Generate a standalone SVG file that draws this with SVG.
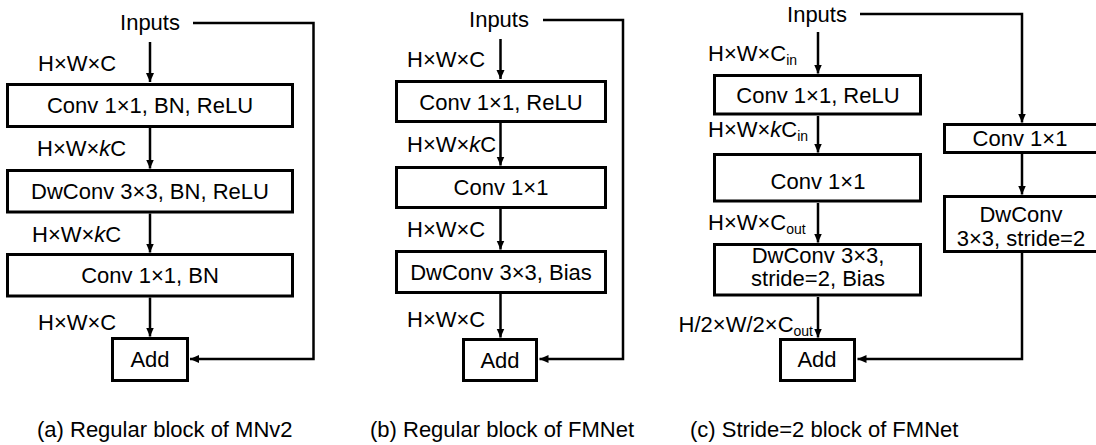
<svg xmlns="http://www.w3.org/2000/svg" width="1096" height="445" viewBox="0 0 1096 445">
<defs>
<style>
text{font-family:"Liberation Sans",Arial,sans-serif;font-size:22px;fill:#000}
.c{text-anchor:middle}
.e{text-anchor:end}
.box{fill:#fff;stroke:#000;stroke-width:3}
.ln{fill:none;stroke:#000;stroke-width:2.5;marker-end:url(#ah)}
.sub{font-size:14px}
</style>
<marker id="ah" markerWidth="10" markerHeight="10" refX="9" refY="5" orient="auto" markerUnits="userSpaceOnUse"><path d="M0,1 L9,5 L0,9 z" fill="#000"/></marker>
</defs>
<rect width="1096" height="445" fill="#fff"/>
<g id="connectors">
<path class="ln" d="M193,23 H313.5 V359 H190"/>
<path class="ln" d="M150,42 V82"/>
<path class="ln" d="M150,128 V168.5"/>
<path class="ln" d="M150,213.5 V252.5"/>
<path class="ln" d="M150,297.5 V336.5"/>
<path class="ln" d="M543,20 H623 V359 H539.5"/>
<path class="ln" d="M500.5,39 V79"/>
<path class="ln" d="M500.5,123 V165.5"/>
<path class="ln" d="M500.5,209 V249.5"/>
<path class="ln" d="M500.5,294 V337.5"/>
<path class="ln" d="M860,14 H1022 V122.5"/>
<path class="ln" d="M818,32 V73.5"/>
<path class="ln" d="M818,116 V152.5"/>
<path class="ln" d="M818,203 V242.5"/>
<path class="ln" d="M818,297 V337.5"/>
<path class="ln" d="M1022,154 V194.5"/>
<path class="ln" d="M1022,253 V359 H857.5"/>
</g>
<g id="a-inputs"><text class="c" x="150" y="30">Inputs</text></g>
<g id="a-conv1"><rect class="box" x="7.5" y="84.5" width="285" height="42"/><text class="c" x="150" y="113">Conv 1×1, BN, ReLU</text></g>
<g id="a-dw"><rect class="box" x="7.5" y="170.5" width="285" height="41.5"/><text class="c" x="150" y="199">DwConv 3×3, BN, ReLU</text></g>
<g id="a-conv2"><rect class="box" x="7.5" y="254.5" width="285" height="41.5"/><text class="c" x="150" y="283">Conv 1×1, BN</text></g>
<g id="a-add"><rect class="box" x="112.5" y="338.5" width="75" height="42"/><text class="c" x="150" y="367">Add</text></g>
<g id="a-labels">
<text x="38" y="71">H×W×C</text>
<text x="37" y="156">H×W×<tspan font-style="italic">k</tspan>C</text>
<text x="32" y="242">H×W×<tspan font-style="italic">k</tspan>C</text>
<text x="38" y="330">H×W×C</text>
<text x="37" y="437">(a) Regular block of MNv2</text>
</g>
<g id="b-inputs"><text class="c" x="499" y="27">Inputs</text></g>
<g id="b-conv1"><rect class="box" x="396.5" y="81.5" width="209" height="40"/><text class="c" x="501" y="109.5">Conv 1×1, ReLU</text></g>
<g id="b-conv2"><rect class="box" x="396.5" y="167.5" width="209" height="40"/><text class="c" x="501" y="195">Conv 1×1</text></g>
<g id="b-dw"><rect class="box" x="396.5" y="251.5" width="209" height="41"/><text class="c" x="501" y="279.5">DwConv 3×3, Bias</text></g>
<g id="b-add"><rect class="box" x="463.5" y="339.5" width="73" height="41"/><text class="c" x="500" y="368">Add</text></g>
<g id="b-labels">
<text x="407" y="67">H×W×C</text>
<text x="407" y="152">H×W×<tspan font-style="italic">k</tspan>C</text>
<text x="407" y="237">H×W×C</text>
<text x="407" y="327">H×W×C</text>
<text x="370" y="437">(b) Regular block of FMNet</text>
</g>
<g id="c-inputs"><text class="c" x="817" y="22">Inputs</text></g>
<g id="c-conv1"><rect class="box" x="714.5" y="75.5" width="206" height="38.5"/><text class="c" x="818" y="103">Conv 1×1, ReLU</text></g>
<g id="c-conv2"><rect class="box" x="714.5" y="154.5" width="206" height="46.5"/><text class="c" x="818" y="189">Conv 1×1</text></g>
<g id="c-dw"><rect class="box" x="714.5" y="244.5" width="206" height="50.5"/><text class="c" x="818" y="263">DwConv 3×3,</text><text class="c" x="818" y="286">stride=2, Bias</text></g>
<g id="c-add"><rect class="box" x="780.5" y="339.5" width="74" height="41"/><text class="c" x="817" y="367">Add</text></g>
<g id="c-sconv"><rect class="box" x="944.5" y="124.5" width="160" height="28"/><text class="c" x="1020" y="146">Conv 1×1</text></g>
<g id="c-sdw"><rect class="box" x="944.5" y="196.5" width="160" height="55"/><text class="c" x="1021" y="222">DwConv</text><text class="c" x="1021" y="246">3×3, stride=2</text></g>
<g id="c-labels">
<text x="708" y="61">H×W×C<tspan class="sub" dy="4">in</tspan></text>
<text x="708" y="137">H×W×<tspan font-style="italic">k</tspan>C<tspan class="sub" dy="4">in</tspan></text>
<text x="708" y="230">H×W×C<tspan class="sub" dy="4">out</tspan></text>
<text class="e" x="813" y="332">H/2×W/2×C<tspan class="sub" dy="4">out</tspan></text>
<text x="690" y="437">(c) Stride=2 block of FMNet</text>
</g>
</svg>
